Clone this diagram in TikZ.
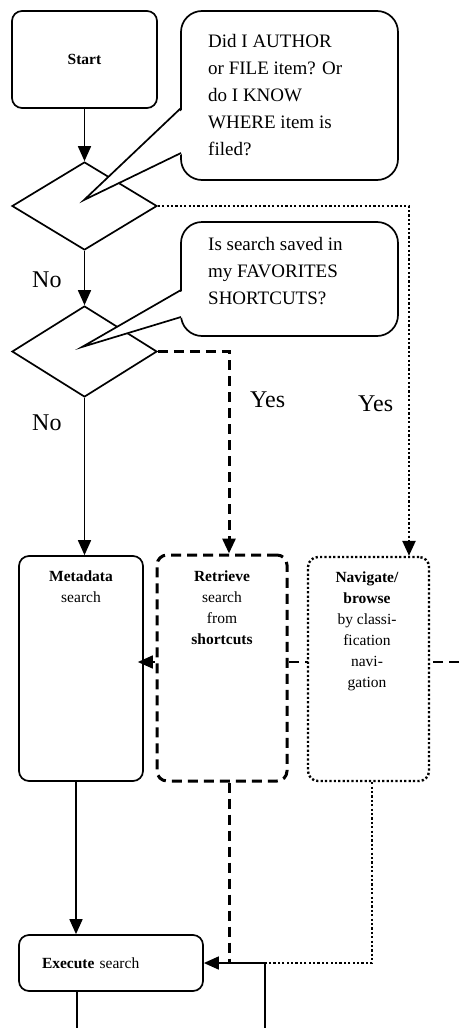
\documentclass[tikz,border=0pt]{standalone}
\usepackage{fontspec}
\setmainfont{Liberation Serif}
\usetikzlibrary{arrows.meta,shapes.geometric}

\begin{document}
\begin{tikzpicture}[x=1pt,y=1pt,yscale=-1,xscale=1,
    box/.style={draw, line width=1.7pt, rounded corners=10pt, fill=white, inner sep=0pt},
    ask/.style={draw, line width=1.7pt, rounded corners=21pt, fill=white, inner sep=0pt},
    choice/.style={draw, diamond, line width=1.7pt, fill=white, inner sep=0pt},
    tip/.style={-{Triangle[length=15pt,width=13pt]}},
    solidline/.style={line width=1.7pt},
    dashline/.style={line width=3pt, dash pattern=on 10pt off 6pt},
    thindash/.style={line width=1.7pt, dash pattern=on 10pt off 6pt},
    dotline/.style={line width=2.4pt, dash pattern=on 2.2pt off 2.2pt},
    asktext/.style={font=\fontsize{19}{27}\selectfont, align=left, anchor=north west, inner sep=0pt},
    boxtext/.style={font=\fontsize{15.5}{21}\selectfont, align=center, inner sep=0pt},
    yesno/.style={font=\fontsize{24}{28}\selectfont, anchor=base west, inner sep=0pt}]
    \useasboundingbox (0,0) rectangle (459,1028);

    % Start
    \node[box, minimum width=145, minimum height=97, font=\fontsize{15.5}{21}\selectfont] (start) at (84.5,59.5) {\textbf{Start}};

    % Decisions
    \node[choice, minimum width=145, minimum height=88] (q1) at (84.5,206) {};
    \node[choice, minimum width=145, minimum height=91] (q2) at (84.5,351.5) {};

    % Callout 1
    \node[ask, minimum width=217, minimum height=169] (ask1) at (289.5,95.5) {};
    \fill[white] (184,108) -- (84,200) -- (184,153) -- cycle;
    \draw[solidline] (181,108) -- (84,200) -- (181,153);
    \node[asktext] (ask1txt) at (208,34) {Did I AUTHOR\\or FILE item? Or\\do I KNOW\\WHERE item is\\filed?};

    % Callout 2
    \node[ask, minimum width=217, minimum height=114] (ask2) at (289.5,279) {};
    \fill[white] (184,290) -- (82,347) -- (184,317) -- cycle;
    \draw[solidline] (181,290) -- (82,347) -- (181,317);
    \node[asktext] (ask2txt) at (208,237) {Is search saved in\\my FAVORITES\\SHORTCUTS?};

    % Search boxes
    \node[box, minimum width=124, minimum height=225] (meta) at (81,668.5) {};
    \coordinate (fromr) at (459,662);
    \draw[thindash, tip, shorten >=-6pt] (fromr) -- (meta.east |- fromr);
    \node[box, dashline, minimum width=130, minimum height=226] (retr) at (222,668) {};
    \node[box, dotline, minimum width=121, minimum height=224] (nav) at (368.5,669) {};
    \node[box, minimum width=184, minimum height=56, text width=138, inner xsep=23, align=left,
          font=\fontsize{15.5}{21}\selectfont] (exec) at (111,963) {\textbf{Execute} search};

    % Text Nodes
    \node[boxtext, anchor=north] (metatxt) at (81,571) {\textbf{Metadata}\\search};
    \node[boxtext, anchor=north] (retrtxt) at (222,571) {\textbf{Retrieve}\\search\\from\\\textbf{shortcuts}};
    \node[boxtext, anchor=north] (navtxt) at (367,572) {\textbf{Navigate/}\\\textbf{browse}\\by classi-\\fication\\navi-\\gation};

    \node[yesno] (no1) at (32,287) {No};
    \node[yesno] (no2) at (32,430) {No};
    \node[yesno] (yes1) at (250,407) {Yes};
    \node[yesno] (yes2) at (358,411) {Yes};

    % Connectors
    \coordinate (join) at (265,963);
    \coordinate (exitr) at (265,1028);
    \coordinate (exitl) at (77,1028);
    \draw[solidline, tip] (start) -- (q1);
    \draw[solidline, tip] (q1) -- (q2);
    \draw[solidline, tip] (q2.south) -- (q2.south |- meta.north);
    \draw[dotline, tip] (q1.east) -| (409,0 |- nav.north);
    \draw[dashline, tip] (q2.east) -| (229,0 |- retr.north);
    \draw[solidline, tip] (76,0 |- meta.south) -- (76,0 |- exec.north);
    \draw[dashline] (229,0 |- retr.south) -- (229,0 |- join);
    \draw[dotline] (372,0 |- nav.south) |- (join);
    \draw[solidline] (exitr) -- (join);
    \draw[solidline, tip] (join) -- (exec.east);
    \draw[solidline] (77,0 |- exec.south) -- (exitl);
\end{tikzpicture}
\end{document}
